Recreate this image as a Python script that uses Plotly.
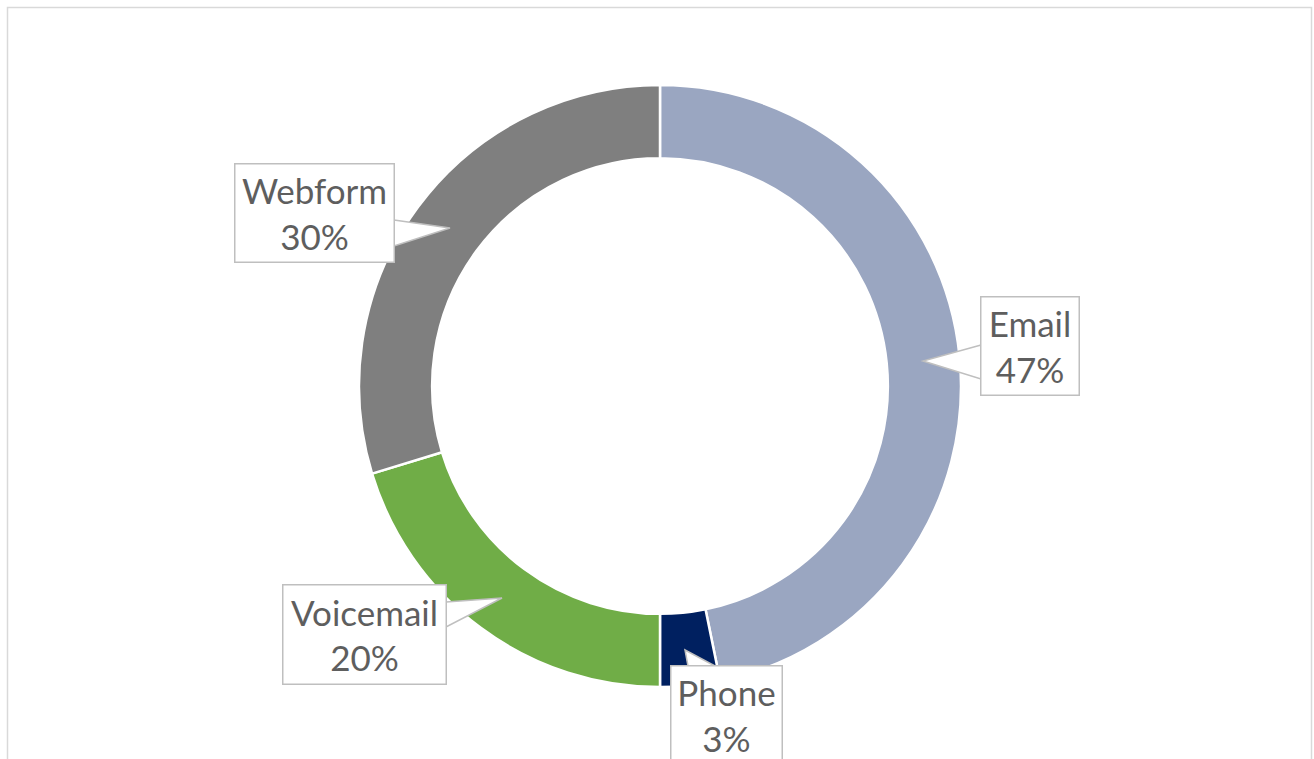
import plotly.graph_objects as go

channels = ["Email", "Phone", "Voicemail", "Webform"]
shares = [46.8, 3.2, 20.3, 29.7]
colors = ["#9AA6C1", "#002060", "#70AD47", "#7F7F7F"]

W, H = 1314, 759

def px(x):
    return x / W

def py(y):
    return (H - y) / H

fig = go.Figure()
fig.add_trace(go.Pie(
    labels=channels, values=shares, sort=False, direction="clockwise", rotation=0,
    hole=0.757, textinfo="none", hoverinfo="label+percent",
    marker=dict(colors=colors, line=dict(color="white", width=2.5)),
    domain=dict(x=[px(359), px(961)], y=[py(687), py(85)]),
    showlegend=False,
))

# callout boxes: (center x, center y, box width, box height)
boxes = {
    "Webform": (314.5, 213, 161, 100),
    "Email": (1030, 346, 100, 100),
    "Voicemail": (364.5, 634.5, 165, 101),
    "Phone": (726.5, 715, 113, 100),
}
wedges = {
    "Webform": [(394, 220), (450, 228), (394, 246)],
    "Email": [(981, 345), (923, 361), (981, 379)],
    "Voicemail": [(446, 602), (502, 598), (446, 627)],
    "Phone": [(688, 666), (685, 650), (715, 666)],
}

shapes = []
for name, pts in wedges.items():
    path = "M " + " L ".join(f"{px(x)},{py(y)}" for x, y in pts) + " Z"
    shapes.append(dict(type="path", xref="paper", yref="paper", path=path,
                       fillcolor="white", line=dict(color="#BFBFBF", width=1.5), layer="above"))

# outer frame
shapes.append(dict(type="rect", xref="paper", yref="paper",
                   x0=px(7.5), x1=px(1311.5), y0=-0.1, y1=py(7.5),
                   line=dict(color="#D9D9D9", width=1.5), fillcolor="rgba(0,0,0,0)", layer="below"))

total = sum(shares)
annotations = []
for name, v in zip(channels, shares):
    cx, cy, bw, bh = boxes[name]
    pct = round(100 * v / total)
    annotations.append(dict(
        x=px(cx), y=py(cy), xref="paper", yref="paper", xanchor="center", yanchor="middle",
        text=f"{name}<br>{pct}%", showarrow=False, align="center",
        font=dict(family="Lato, Noto Sans, sans-serif", size=35, color="#5E5E5E"),
        bgcolor="white", bordercolor="#BFBFBF", borderwidth=1.5, borderpad=0,
        width=bw - 3, height=bh - 3,
    ))

fig.update_layout(
    width=W, height=H, margin=dict(l=0, r=0, t=0, b=0),
    paper_bgcolor="white", plot_bgcolor="white",
    shapes=shapes, annotations=annotations,
)

fig.write_html("out.html", config={"displayModeBar": False},
               post_script="document.body.style.margin='0';document.body.style.overflow='hidden';")
